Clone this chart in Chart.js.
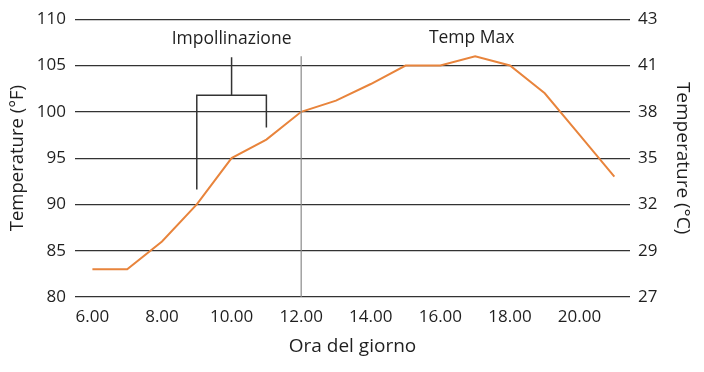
<!DOCTYPE html>
<html>
<head>
<meta charset="utf-8">
<script src="https://cdn.jsdelivr.net/npm/chart.js@4/dist/chart.umd.min.js"></script>
<style>
html,body{margin:0;padding:0;background:#fff;}
#wrap{width:704px;height:372px;position:relative;}
</style>
</head>
<body>
<div id="wrap"><canvas id="c" width="704" height="372"></canvas></div>
<script>
const hours = [6,7,8,9,10,11,12,13,14,15,16,17,18,19,20,21];
const tempF = [83,83,86,90,95,97,100,101.2,103,105,105,106,105,102,97.5,93];
const xTickValues = [6,8,10,12,14,16,18,20];
const yTicksF = [80,85,90,95,100,105,110];
const yTicksC = ['27','29','32','35','38','41','43'];

const FONT = '"Open Sans"';
const TEXT = '#1f1f1f';

const annot = {
  id: 'annot',
  afterDatasetsDraw(chart) {
    const {ctx, scales: {x, y}} = chart;
    ctx.save();
    ctx.strokeStyle = '#8a8a8a';
    ctx.lineWidth = 1.2;
    ctx.beginPath();
    ctx.moveTo(x.getPixelForValue(12), y.getPixelForValue(106));
    ctx.lineTo(x.getPixelForValue(12), y.getPixelForValue(80));
    ctx.stroke();
    ctx.strokeStyle = '#333';
    ctx.lineWidth = 1.5;
    ctx.beginPath();
    ctx.moveTo(x.getPixelForValue(10), y.getPixelForValue(105.9));
    ctx.lineTo(x.getPixelForValue(10), y.getPixelForValue(101.8));
    ctx.moveTo(x.getPixelForValue(9), y.getPixelForValue(91.6));
    ctx.lineTo(x.getPixelForValue(9), y.getPixelForValue(101.8));
    ctx.lineTo(x.getPixelForValue(11), y.getPixelForValue(101.8));
    ctx.lineTo(x.getPixelForValue(11), y.getPixelForValue(98.3));
    ctx.stroke();
    ctx.fillStyle = TEXT;
    ctx.font = '17.5px ' + FONT;
    ctx.textAlign = 'center';
    ctx.textBaseline = 'middle';
    ctx.fillText('Impollinazione', x.getPixelForValue(10), y.getPixelForValue(107.9));
    ctx.fillText('Temp Max', x.getPixelForValue(16.9), y.getPixelForValue(108));
    ctx.restore();
  }
};

new Chart(document.getElementById('c'), {
  type: 'line',
  data: {
    datasets: [{
      data: hours.map((h, i) => ({x: h, y: tempF[i]})),
      borderColor: '#e8843c',
      borderWidth: 2,
      pointRadius: 0,
      tension: 0,
      yAxisID: 'y'
    }]
  },
  options: {
    responsive: false,
    animation: false,
    layout: {padding: {top: 19, left: 0, right: 0, bottom: 0}},
    plugins: {legend: {display: false}, tooltip: {enabled: false}},
    scales: {
      x: {
        type: 'linear',
        min: 5.5,
        max: 21.45,
        afterBuildTicks(s) { s.ticks = xTickValues.map(v => ({value: v})); },
        afterFit(s) { s.height = 75; },
        grid: {display: false, drawTicks: false},
        border: {display: false},
        ticks: {
          color: TEXT,
          font: {family: FONT, size: 17},
          padding: 10,
          maxRotation: 0,
          callback: v => v.toFixed(2)
        },
        title: {
          display: true,
          text: 'Ora del giorno',
          color: TEXT,
          font: {family: FONT, size: 19},
          padding: {top: 4, bottom: 14}
        }
      },
      y: {
        position: 'left',
        min: 80,
        max: 110,
        afterBuildTicks(s) { s.ticks = yTicksF.map(v => ({value: v})); },
        afterFit(s) { s.width = 75; },
        grid: {color: '#333', lineWidth: 1.2, drawTicks: false},
        border: {display: false},
        ticks: {
          color: TEXT,
          font: {family: FONT, size: 17},
          padding: 9
        },
        title: {
          display: true,
          text: 'Temperature (°F)',
          color: TEXT,
          font: {family: FONT, size: 18.5},
          padding: {top: 7, bottom: 4}
        }
      },
      y2: {
        position: 'right',
        min: 80,
        max: 110,
        afterBuildTicks(s) { s.ticks = yTicksF.map(v => ({value: v})); },
        afterFit(s) { s.width = 74; },
        grid: {display: false, drawTicks: false},
        border: {display: false},
        ticks: {
          color: TEXT,
          font: {family: FONT, size: 17},
          padding: 8,
          callback: (v, i) => yTicksC[i]
        },
        title: {
          display: true,
          text: 'Temperature (°C)',
          color: TEXT,
          font: {family: FONT, size: 19},
          padding: {top: 10, bottom: 4}
        }
      }
    }
  },
  plugins: [annot]
});
</script>
</body>
</html>
